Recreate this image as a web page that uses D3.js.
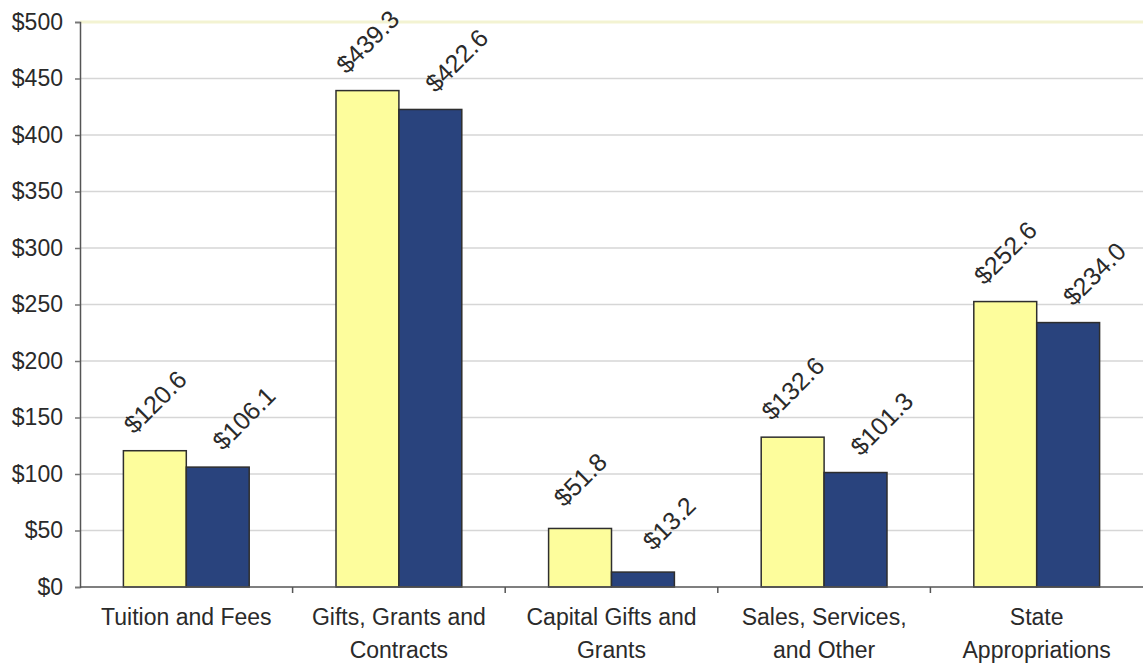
<!DOCTYPE html>
<html lang="en">
<head>
  <meta charset="UTF-8">
  <title>Revenue by source</title>
  <script src="https://d3js.org/d3.v7.min.js"></script>
  <style>
    body { margin: 0; background: #fff; }
    svg text { font-family: Arial, "Liberation Sans", sans-serif; fill: #2a2a2a; }
  </style>
</head>
<body>
  <svg id="chart" width="1143" height="665"></svg>
  <script>
    // categories (two-line labels split on '|')
    const categories = [
      'Tuition and Fees',
      'Gifts, Grants and|Contracts',
      'Capital Gifts and|Grants',
      'Sales, Services,|and Other',
      'State|Appropriations'
    ];
    const seriesNames = ['first', 'second'];
    const firstValues = [120.6, 439.3, 51.8, 132.6, 252.6];
    const secondValues = [106.1, 422.6, 13.2, 101.3, 234.0];
    const yTicks = [0, 50, 100, 150, 200, 250, 300, 350, 400, 450, 500];

    const colors = { first: '#fdfd9c', second: '#29437d' };

    const svg = d3.select('#chart');
    const margin = { top: 22, left: 80, bottom: 78, right: 0 };
    const width = +svg.attr('width'),
          height = +svg.attr('height');

    const x0 = d3.scaleBand()
      .domain(categories)
      .range([margin.left, width - margin.right])
      .padding(0);

    const x1 = d3.scaleBand()
      .domain(seriesNames)
      .range([0, x0.bandwidth()])
      .paddingInner(0)
      .paddingOuter(0.69);

    const y = d3.scaleLinear()
      .domain([0, 500])
      .range([height - margin.bottom, margin.top]);

    // gridlines
    svg.append('g')
      .selectAll('line').data(yTicks.filter(d => d > 0))
      .enter().append('line')
        .attr('x1', margin.left)
        .attr('x2', width)
        .attr('y1', d => y(d))
        .attr('y2', d => y(d))
        .attr('stroke', d => d === 500 ? '#f3f3d2' : '#d6d6d6')
        .attr('stroke-width', d => d === 500 ? 3 : 1.5);

    // y axis
    const yAxis = d3.axisLeft(y)
      .tickValues(yTicks)
      .tickSize(5)
      .tickPadding(12)
      .tickFormat(d => '$' + d);

    const yG = svg.append('g')
      .attr('transform', `translate(${margin.left},0)`)
      .call(yAxis);
    yG.select('.domain').attr('stroke', '#555').attr('stroke-width', 1.5);
    yG.selectAll('.tick line').attr('stroke', '#777').attr('stroke-width', 1.5);
    yG.selectAll('.tick text').attr('font-size', 23).attr('fill', '#2a2a2a');

    // bars
    const data = categories.map((c, i) => ({
      category: c,
      values: [
        { key: 'first', value: firstValues[i] },
        { key: 'second', value: secondValues[i] }
      ]
    }));

    const groups = svg.append('g')
      .selectAll('g').data(data)
      .enter().append('g')
        .attr('transform', d => `translate(${x0(d.category)},0)`);

    groups.selectAll('rect').data(d => d.values)
      .enter().append('rect')
        .attr('x', d => x1(d.key))
        .attr('y', d => y(d.value))
        .attr('width', x1.bandwidth())
        .attr('height', d => y(0) - y(d.value))
        .attr('fill', d => colors[d.key])
        .attr('stroke', '#2e2e2e')
        .attr('stroke-width', 1.5);

    // rotated value labels
    const labelDx = { first: 0, second: 26 };
    groups.selectAll('text.value').data(d => d.values)
      .enter().append('text')
        .attr('class', 'value')
        .attr('transform', d => {
          const cx = x1(d.key) + x1.bandwidth() / 2 + labelDx[d.key];
          const cy = y(d.value) - 49;
          return `translate(${cx},${cy}) rotate(-45)`;
        })
        .attr('text-anchor', 'middle')
        .attr('dominant-baseline', 'central')
        .attr('font-size', 25)
        .text(d => '$' + d3.format('.1f')(d.value));

    // x axis
    const xAxisY = y(0);
    svg.append('line')
      .attr('x1', margin.left)
      .attr('x2', width)
      .attr('y1', xAxisY)
      .attr('y2', xAxisY)
      .attr('stroke', '#555')
      .attr('stroke-width', 1.5);

    svg.append('g')
      .selectAll('line').data(categories.slice(1))
      .enter().append('line')
        .attr('x1', d => x0(d))
        .attr('x2', d => x0(d))
        .attr('y1', xAxisY)
        .attr('y2', xAxisY + 6)
        .attr('stroke', '#555')
        .attr('stroke-width', 1.5);

    // category labels
    const catLabels = svg.append('g')
      .selectAll('text').data(categories)
      .enter().append('text')
        .attr('x', d => x0(d) + x0.bandwidth() / 2)
        .attr('y', xAxisY + 38)
        .attr('text-anchor', 'middle')
        .attr('font-size', 23);

    catLabels.selectAll('tspan').data(d => d.split('|'))
      .enter().append('tspan')
        .attr('x', function () { return d3.select(this.parentNode).attr('x'); })
        .attr('dy', (d, i) => i === 0 ? 0 : 33)
        .text(d => d);
  </script>
</body>
</html>
